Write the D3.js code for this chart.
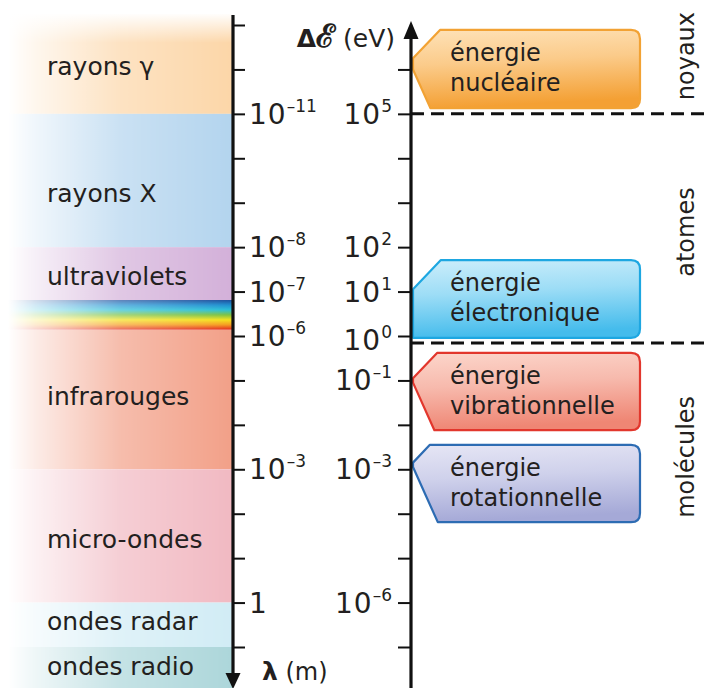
<!DOCTYPE html>
<html>
<head>
<meta charset="utf-8">
<script src="https://cdn.jsdelivr.net/npm/d3@7/dist/d3.min.js"></script>
<style>
body { margin: 0; background: #fff; }
svg { display: block; font-family: "DejaVu Sans", "Open Sans", sans-serif; }
</style>
</head>
<body>
<div id="chart"></div>
<script>

// schematic axis: positions are in "tick units" (one unit = one tick step)
const wavelengthTicks = d3.range(0, 15);
const energyTicks = d3.range(1, 15);

const wavelengthLabels = [
	{pos: 2, base: "10", exp: "–11"},
	{pos: 5, base: "10", exp: "–8"},
	{pos: 6, base: "10", exp: "–7"},
	{pos: 7, base: "10", exp: "–6"},
	{pos: 10, base: "10", exp: "–3"},
	{pos: 13, base: "1", exp: ""}
];
const energyLabels = [
	{pos: 2, base: "10", exp: "5"},
	{pos: 5, base: "10", exp: "2"},
	{pos: 6, base: "10", exp: "1"},
	{pos: 7.1, base: "10", exp: "0"},
	{pos: 8, base: "10", exp: "–1"},
	{pos: 10, base: "10", exp: "–3"},
	{pos: 13, base: "10", exp: "–6"}
];

// spectrum bands (left column)
const bandNames = ["rayons γ", "rayons X", "ultraviolets", "", "infrarouges", "micro-ondes", "ondes radar", "ondes radio"];
const bandStart = [-0.25, 2, 5, 6.19, 6.86, 10, 13, 14];
const bandEnd = [2, 5, 6.19, 6.86, 10, 13, 14, 15];
const bandLabelAt = [1.12, 3.98, 5.85, null, 8.55, 11.77, 13.62, 14.63];
const bandColors = ["#fcd6a8", "#b3d4ee", "#d3b0d9", null, "#f2a088", "#f1b9c2", "#d1ecf5", "#acd6da"];
const rainbow = ["#1b4e9c", "#1f8fd0", "#29bfd6", "#7dc242", "#f4e11b", "#f59b1f", "#e2261c"];

// energy boxes (right column)
const boxLine1 = ["énergie", "énergie", "énergie", "énergie"];
const boxLine2 = ["nucléaire", "électronique", "vibrationnelle", "rotationnelle"];
const boxTop = [0.11, 5.29, 7.38, 9.45];
const boxBottom = [1.87, 7.04, 9.12, 11.19];
const boxTipTop = [0.75, 5.95, 7.95, 9.85];
const boxTipBottom = [1.0, 7.04, 8.05, 9.95];
const boxFill = [["#fee2b8", "#f4a034"], ["#cdeefb", "#45bcec"], ["#fcd6cb", "#ef8674"], ["#e6e6f5", "#a5a9d7"]];
const boxStroke = ["#f2a234", "#1ea7e1", "#e2372d", "#2d6cb3"];

// domains separated by dashed lines
const domainNames = ["noyaux", "atomes", "molécules"];
const domainCenter = [0.7, 4.66, 9.72];
const domainLimits = [2, 7.16];

const width = 704, height = 688;
const xL = 233, xR = 411;
const ink = "#231f20";

const svg = d3.select("#chart").append("svg")
	.attr("width", width)
	.attr("height", height);

const y = d3.scaleLinear().domain([0, 14]).range([25, 647]);

const defs = svg.append("defs");

// horizontal fade from white on the left
const fade = defs.append("linearGradient")
	.attr("id", "fade")
	.attr("gradientUnits", "userSpaceOnUse")
	.attr("x1", 8).attr("x2", xL).attr("y1", 0).attr("y2", 0);
fade.selectAll("stop")
	.data([[0, 0], [0.12, 0.2], [0.5, 0.7], [1, 1]])
	.enter().append("stop")
	.attr("offset", d => d[0])
	.attr("stop-color", "#fff")
	.attr("stop-opacity", d => d[1]);

defs.append("mask").attr("id", "fadeMask")
	.append("rect")
	.attr("x", 0).attr("y", 0).attr("width", xL).attr("height", height)
	.attr("fill", "url(#fade)");

const rb = defs.append("linearGradient")
	.attr("id", "rainbow")
	.attr("x1", 0).attr("x2", 0).attr("y1", 0).attr("y2", 1);
rb.selectAll("stop")
	.data(rainbow)
	.enter().append("stop")
	.attr("offset", (d, i) => i / (rainbow.length - 1))
	.attr("stop-color", d => d);

// bands
const bands = svg.append("g").attr("mask", "url(#fadeMask)");
bands.selectAll("rect")
	.data(bandNames)
	.enter().append("rect")
	.attr("x", 0)
	.attr("width", xL)
	.attr("y", (d, i) => y(bandStart[i]))
	.attr("height", (d, i) => y(bandEnd[i]) - y(bandStart[i]))
	.attr("fill", (d, i) => bandColors[i] || "url(#rainbow)");

// soften the top edge of the gamma band
const topFade = defs.append("linearGradient")
	.attr("id", "topFade")
	.attr("x1", 0).attr("x2", 0).attr("y1", 0).attr("y2", 1);
topFade.append("stop").attr("offset", 0).attr("stop-color", "#fff").attr("stop-opacity", 1);
topFade.append("stop").attr("offset", 1).attr("stop-color", "#fff").attr("stop-opacity", 0);
svg.append("rect")
	.attr("x", 0).attr("width", xL)
	.attr("y", y(bandStart[0]) - 1).attr("height", 30)
	.attr("fill", "url(#topFade)");

svg.append("g").selectAll("text")
	.data(bandNames.filter(d => d))
	.enter().append("text")
	.attr("x", 47)
	.attr("y", d => y(bandLabelAt[bandNames.indexOf(d)]))
	.attr("font-size", 25)
	.attr("fill", ink)
	.text(d => d);

// dashed separators
svg.append("g").selectAll("line")
	.data(domainLimits)
	.enter().append("line")
	.attr("x1", xR).attr("x2", width)
	.attr("y1", d => y(d)).attr("y2", d => y(d))
	.attr("stroke", "#111")
	.attr("stroke-width", 3)
	.attr("stroke-dasharray", "13,7");

// energy boxes
function boxPath(i) {
	var t = y(boxTop[i]), b = y(boxBottom[i]);
	var tt = y(boxTipTop[i]), tb = y(boxTipBottom[i]);
	var x0 = xR + 2, x1 = 640, r = 9;
	var cTop = x0 + (tt - t) * 0.95;
	var cBot = x0 + (b - tb) * 0.45;
	if (b - tb < 1) cBot = x0;
	return "M" + cTop + "," + t +
		"L" + (x1 - r) + "," + t +
		"Q" + x1 + "," + t + " " + x1 + "," + (t + r) +
		"L" + x1 + "," + (b - r) +
		"Q" + x1 + "," + b + " " + (x1 - r) + "," + b +
		"L" + cBot + "," + b +
		"L" + x0 + "," + tb +
		"L" + x0 + "," + tt + "Z";
}

boxLine2.forEach(function(name, i) {
	var g = defs.append("linearGradient")
		.attr("id", "box" + i)
		.attr("x1", 0).attr("x2", 0.15).attr("y1", 0).attr("y2", 1);
	g.append("stop").attr("offset", 0).attr("stop-color", boxFill[i][0]);
	g.append("stop").attr("offset", 0.45).attr("stop-color", d3.interpolate(boxFill[i][0], boxFill[i][1])(0.35));
	g.append("stop").attr("offset", 1).attr("stop-color", boxFill[i][1]);
});

const boxes = svg.append("g").selectAll("g")
	.data(boxLine2)
	.enter().append("g");

boxes.append("path")
	.attr("d", (d, i) => boxPath(i))
	.attr("fill", (d, i) => "url(#box" + i + ")")
	.attr("stroke", (d, i) => boxStroke[i])
	.attr("stroke-width", 2.2)
	.attr("stroke-linejoin", "round");

// two-line label
const boxText = boxes.append("text")
	.attr("font-size", 24)
	.attr("fill", ink);
boxText.append("tspan")
	.attr("x", 450)
	.attr("y", (d, i) => y(boxTop[i]) + 31)
	.text((d, i) => boxLine1[i]);
boxText.append("tspan")
	.attr("x", 450)
	.attr("y", (d, i) => y(boxTop[i]) + 61)
	.text(d => d);

// domain labels, vertical
svg.append("g").selectAll("text")
	.data(domainNames)
	.enter().append("text")
	.attr("transform", (d, i) => "translate(694," + y(domainCenter[i]) + ") rotate(-90)")
	.attr("text-anchor", "middle")
	.attr("font-size", 24)
	.attr("fill", ink)
	.text(d => d);

// axes
const leftAxis = d3.axisRight(y).tickValues(wavelengthTicks).tickSize(12).tickFormat("");
const rightAxis = d3.axisLeft(y).tickValues(energyTicks).tickSize(13).tickFormat("");

svg.append("g")
	.attr("transform", "translate(" + xL + ",0)")
	.call(leftAxis)
	.call(g => g.select(".domain").remove())
	.selectAll("line").attr("stroke", "#111").attr("stroke-width", 2);

svg.append("g")
	.attr("transform", "translate(" + xR + ",0)")
	.call(rightAxis)
	.call(g => g.select(".domain").remove())
	.selectAll("line").attr("stroke", "#111").attr("stroke-width", 2);

svg.append("line")
	.attr("x1", xL).attr("x2", xL).attr("y1", 15).attr("y2", 676)
	.attr("stroke", "#111").attr("stroke-width", 3.2);
svg.append("path")
	.attr("d", "M" + (xL - 7.5) + ",673L" + (xL + 7.5) + ",673L" + xL + ",689Z")
	.attr("fill", "#111");

svg.append("line")
	.attr("x1", xR).attr("x2", xR).attr("y1", 688).attr("y2", 36)
	.attr("stroke", "#111").attr("stroke-width", 3.2);
svg.append("path")
	.attr("d", "M" + (xR - 7.5) + ",39L" + (xR + 7.5) + ",39L" + xR + ",21Z")
	.attr("fill", "#111");

// power-of-ten tick labels
function powerLabels(data, x, anchor) {
	var t = svg.append("g").selectAll("text")
		.data(data)
		.enter().append("text")
		.attr("x", x)
		.attr("y", d => y(d.pos) + 10)
		.attr("text-anchor", anchor)
		.attr("font-size", 28)
		.attr("fill", ink);
	t.append("tspan").attr("letter-spacing", 1).text(d => d.base);
	t.append("tspan")
		.attr("dy", -12)
		.attr("font-size", 17)
		.text(d => d.exp);
}
powerLabels(wavelengthLabels, 249, "start");
powerLabels(energyLabels, 392, "end");

// axis titles
const eTitle = svg.append("text")
	.attr("x", 395).attr("y", 47)
	.attr("text-anchor", "end")
	.attr("font-size", 25)
	.attr("fill", ink);
eTitle.append("tspan").attr("font-weight", "bold").attr("font-size", 25).text("Δ");
eTitle.append("tspan").attr("font-weight", "bold").attr("font-size", 32)
	.attr("font-family", "DejaVu Serif, serif").text("ℰ");
eTitle.append("tspan").text(" (eV)");

const lTitle = svg.append("text")
	.attr("x", 262).attr("y", 680)
	.attr("font-size", 24)
	.attr("fill", ink);
lTitle.append("tspan").attr("font-weight", "bold").attr("font-size", 25).text("λ");
lTitle.append("tspan").text(" (m)");

</script>
</body>
</html>
